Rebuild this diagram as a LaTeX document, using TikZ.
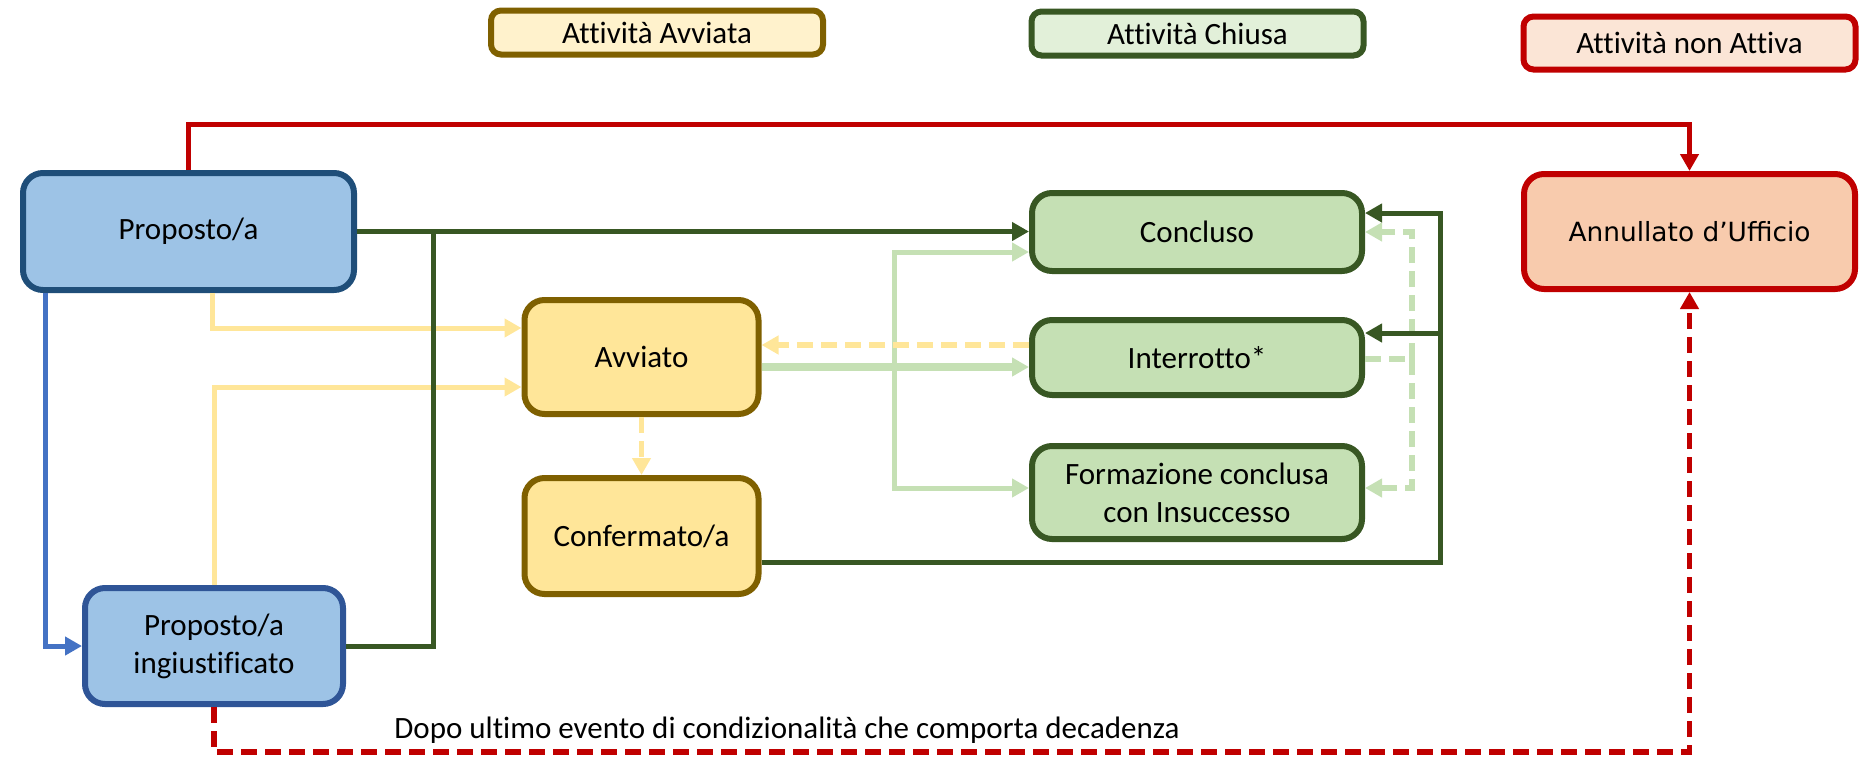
\documentclass[tikz,border=0pt]{standalone}
\usepackage{fontspec}
\setmainfont{Carlito}[Ligatures=NoCommon]
\newfontfamily\verdfont{DejaVu Sans}
\usetikzlibrary{arrows.meta,calc}
\definecolor{bluefill}{HTML}{9DC3E6}
\definecolor{blueborder}{HTML}{1F4E79}
\definecolor{blueborderb}{HTML}{2F5597}
\definecolor{bluearrow}{HTML}{4472C4}
\definecolor{yelfill}{HTML}{FFE699}
\definecolor{yelborder}{HTML}{7F6000}
\definecolor{grnfill}{HTML}{C5E0B4}
\definecolor{grnborder}{HTML}{385723}
\definecolor{redc}{HTML}{C00000}
\definecolor{redfill}{HTML}{F8CBAD}
\definecolor{legyel}{HTML}{FFF2CC}
\definecolor{leggrn}{HTML}{E2F0D9}
\definecolor{legred}{HTML}{FBE5D6}
\begin{document}
\begin{tikzpicture}[x=0.5pt,y=-0.5pt,
  box/.style={rectangle, rounded corners=10pt, line width=3pt, align=center,
    inner sep=0pt, font=\fontsize{15.5}{19}\selectfont},
  bluebox/.style={box, fill=bluefill, draw=blueborder},
  yelbox/.style={box, fill=yelfill, draw=yelborder},
  grnbox/.style={box, fill=grnfill, draw=grnborder},
  redbox/.style={box, fill=redfill, draw=redc, font=\verdfont\fontsize{13.2}{16}\selectfont},
  legbox/.style={rectangle, rounded corners=5pt, line width=3pt, inner sep=0pt,
    minimum width=166pt, font=\fontsize{15.5}{19}\selectfont},
  arr/.style={-{Triangle[length=8.5pt,width=9pt]}},
  conn/.style={line width=2.5pt},
  dg/.style={conn, draw=grnborder},
  lg/.style={conn, draw=grnfill},
  yl/.style={conn, draw=yelfill},
  bl/.style={conn, draw=bluearrow},
  rd/.style={conn, draw=redc},
  dsh/.style={line width=2.8pt, dash pattern=on 8pt off 4pt},
]
\useasboundingbox (0,0) rectangle (1873,756);

% legend
\node[legbox, fill=legyel, draw=yelborder, minimum height=22pt] (lav) at (657,32.5) {Attività Avviata};
\node[legbox, fill=leggrn, draw=grnborder, minimum height=22pt] (lch) at (1197.5,33.5) {Attività Chiusa};
\node[legbox, fill=legred, draw=redc, minimum height=26.5pt] (lna) at (1689.5,43) {Attività non Attiva};

% main nodes
\node[bluebox, minimum width=165.5pt, minimum height=58.5pt] (prop) at (188.5,231.5) {Proposto/a};
\node[bluebox, draw=blueborderb, minimum width=129pt, minimum height=58pt] (ing) at (214,646) {Proposto/a\\ingiustificato};
\node[yelbox, minimum width=117pt, minimum height=57pt] (avv) at (641.5,357) {Avviato};
\node[yelbox, minimum width=117pt, minimum height=58pt] (conf) at (641.5,536) {Confermato/a};
\node[grnbox, minimum width=165pt, minimum height=39pt] (conc) at (1197,232) {Concluso};
\node[grnbox, minimum width=165pt, minimum height=37.5pt] (intr) at (1197,357.5) {Interrotto*};
\node[grnbox, minimum width=165pt, minimum height=46.5pt] (form) at (1197,492.5) {Formazione conclusa\\con Insuccesso};
\node[redbox, minimum width=165.5pt, minimum height=57.5pt] (ann) at (1689.5,231.5) {Annullato d’Ufficio};

% helper coordinates
\coordinate (dgj) at (433,232);
\coordinate (lgv) at (894,367);
\coordinate (dgt) at (1440,213);
\coordinate (dgm) at (1440,333);
\coordinate (lgd) at (1412,359);

% light yellow
\draw[yl,arr] (prop.south -| 212,0) |- (avv.west |- 0,328);
\draw[yl,arr] (ing.north) |- (avv.west |- 0,387);
% blue
\draw[bl,arr] (prop.south -| 45,0) |- (ing.west);
% light green
\draw[lg,arr,line width=4pt] (avv.east |- lgv) -- (intr.west |- lgv);
\draw[lg,arr] (lgv) |- (conc.west |- 0,252);
\draw[lg,arr] (lgv) |- (form.west |- 0,488);
% yellow dashed
\draw[dsh,draw=yelfill,arr] (intr.west |- 0,345) -- (avv.east |- 0,345);
\draw[dsh,draw=yelfill,arr] (avv.south) -- (conf.north);
% light green dashed
\draw[dsh,draw=grnfill] (intr.east |- lgd) -- (lgd);
\draw[dsh,draw=grnfill,arr] (lgd) |- (conc.east |- 0,232);
\draw[dsh,draw=grnfill,arr] (lgd) |- (form.east |- 0,488);
% dark green
\draw[dg,arr] (prop.east) -- (prop.east -| conc.west);
\draw[dg] (ing.east) -| (dgj);
\draw[dg,arr] (conf.east |- 0,562) -| (dgt) -- (conc.east |- dgt);
\draw[dg,arr] (dgm) -- (intr.east |- dgm);
% red
\draw[rd,arr] (prop.north) -- (prop.north |- 0,124) -| (ann.north);
\draw[dsh,draw=redc,arr] (ing.south) -- (ing.south |- 0,752) -| (ann.south);

\node[anchor=base west, inner sep=0pt, font=\fontsize{15.5}{19}\selectfont] (lbl) at (394,738)
  {Dopo ultimo evento di condizionalità che comporta decadenza};
\end{tikzpicture}
\end{document}
